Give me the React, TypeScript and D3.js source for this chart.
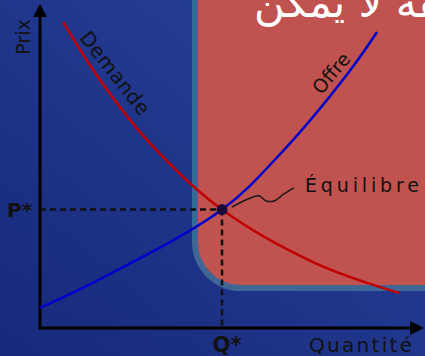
import React from 'react'
import * as d3 from 'd3'

// quantity / price values (axis units 0..10)
const demandQ = [0.61, 1.58, 2.89, 4.79, 7.24, 9.47]
const demandP = [9.56, 7.75, 5.78, 3.7, 2.03, 1.09]
const supplyQ = [0, 1.58, 4.79, 6.37, 8.11, 8.87]
const supplyP = [0.63, 1.53, 3.7, 5.5, 7.97, 9.25]
const equilibrium = { q: 4.79, p: 3.7 }
const leaderQ = [5.05, 5.47, 5.76, 5.95, 6.16, 6.42, 6.68]
const leaderP = [3.78, 4.03, 4.13, 3.97, 3.97, 4.19, 4.38]

const labels = {
  yAxis: 'Prix',
  xAxis: 'Quantité',
  demand: 'Demande',
  supply: 'Offre',
  eq: 'Équilibre',
  pStar: 'P*',
  qStar: 'Q*',
  banner: 'الفقه لا يمكن'
}

export default function App() {
  const width = 425
  const height = 356
  const font = 'DejaVu Sans, sans-serif'

  const x = d3.scaleLinear().domain([0, 10]).range([40, 420])
  const y = d3.scaleLinear().domain([0, 10]).range([328, 8])

  const curve = d3.line<[number, number]>()
    .x(d => x(d[0]))
    .y(d => y(d[1]))
    .curve(d3.curveCatmullRom.alpha(0.5))

  const demandPath = curve(demandQ.map((q, i) => [q, demandP[i]]))
  const supplyPath = curve(supplyQ.map((q, i) => [q, supplyP[i]]))
  const leaderPath = curve(leaderQ.map((q, i) => [q, leaderP[i]]))

  const ox = x(0)
  const oy = y(0)
  const ex = x(equilibrium.q)
  const ey = y(equilibrium.p)

  return (
    <div style={{ position: 'fixed', left: 0, top: 0 }}>
      <svg width={width} height={height} viewBox={`0 0 ${width} ${height}`} style={{ display: 'block' }}>
        <defs>
          <linearGradient id="bg" x1="0" y1="1" x2="1" y2="0">
            <stop offset="0" stopColor="#17297a" />
            <stop offset="1" stopColor="#28439c" />
          </linearGradient>
        </defs>
        <rect x="0" y="0" width={width} height={height} fill="url(#bg)" />
        <rect x="195" y="-80" width="300" height="368" rx="46" ry="46" fill="#c0524f" stroke="#3f6694" strokeWidth="6" />

        <text x="254" y="17" fontFamily={font} fontSize="42" fill="#ffffff">{labels.banner}</text>

        {/* guides */}
        <line x1={ox} x2={ex} y1={ey} y2={ey} stroke="#111" strokeWidth="2.5" strokeDasharray="6,4" />
        <line x1={ex} x2={ex} y1={ey} y2={oy} stroke="#111" strokeWidth="2.5" strokeDasharray="6,4" />

        {/* axes */}
        <line x1={ox} x2={ox} y1={oy + 1.5} y2="14" stroke="#000" strokeWidth="3" />
        <path d={`M${ox},4 L${ox + 7},17 L${ox - 7},17 Z`} fill="#000" />
        <line x1={ox - 1.5} x2="412" y1={oy} y2={oy} stroke="#000" strokeWidth="3" />
        <path d={`M424,${oy} L410,${oy - 7} L410,${oy + 7} Z`} fill="#000" />

        {demandPath && <path d={demandPath} fill="none" stroke="#c00000" strokeWidth="2.5" />}
        {supplyPath && <path d={supplyPath} fill="none" stroke="#0000cc" strokeWidth="2.5" />}
        {leaderPath && <path d={leaderPath} fill="none" stroke="#1a1a1a" strokeWidth="1.5" />}
        <circle cx={ex} cy={ey} r="5.5" fill="#1c0c3c" />

        <text transform="translate(30,37) rotate(-90)" textAnchor="middle" fontFamily={font} fontSize="20" fill="#111" textLength="36" lengthAdjust="spacingAndGlyphs">{labels.yAxis}</text>
        <text x="309" y="352" fontFamily={font} fontSize="20" fill="#111" textLength="103" lengthAdjust="spacing">{labels.xAxis}</text>
        <text transform="translate(115,73) rotate(52)" textAnchor="middle" dominantBaseline="central" fontFamily={font} fontSize="20" fill="#111" textLength="100" lengthAdjust="spacing">{labels.demand}</text>
        <text transform="translate(331,73) rotate(-50)" textAnchor="middle" dominantBaseline="central" fontFamily={font} fontSize="19" fill="#111">{labels.supply}</text>
        <text x="305" y="192" fontFamily={font} fontSize="19" fill="#111" textLength="114" lengthAdjust="spacing">{labels.eq}</text>
        <text x="7" y="217" fontFamily={font} fontSize="20" fontWeight="bold" fill="#111">{labels.pStar}</text>
        <text x={ex + 5} y="352" textAnchor="middle" fontFamily={font} fontSize="21" fontWeight="bold" fill="#111">{labels.qStar}</text>
      </svg>
    </div>
  )
}
